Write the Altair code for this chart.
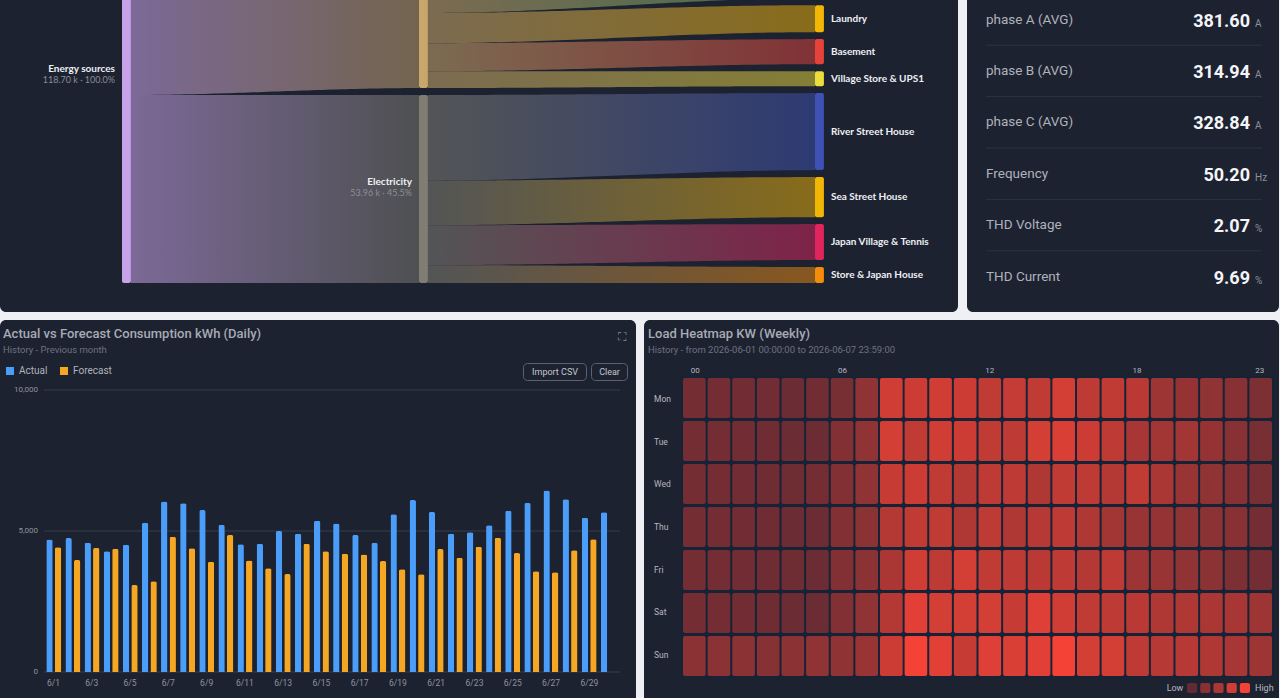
import altair as alt
import numpy as np
import pandas as pd

PAGE_BG = "#eef0f3"
PANEL_BG = "#1d2231"
TITLE_C = "#a7abb4"
SUB_C = "#6d7280"
AXIS_C = "#8d929c"

# ---------------- Sankey: energy flow (k kWh) ----------------
node_names = ["Energy sources", "Solar", "Electricity", "Main Building", "Laundry", "Basement",
              "Village Store & UPS1", "River Street House", "Sea Street House",
              "Japan Village & Tennis", "Store & Japan House"]
node_depth = [0, 3, 3, 7, 7, 7, 7, 7, 7, 7, 7]
node_values = [118.70, 64.74, 53.96, 38.6, 7.75, 7.2, 4.3, 22.1, 11.5, 10.3, 4.6]
node_colors = ["#c9a3ea", "#c9a66b", "#807e74", "#66bb6a", "#f2b705", "#e5433a", "#ecdc3c",
               "#3f51b5", "#f2b705", "#e0245e", "#f28c0a"]
node_labeled = [True, False, True, False, True, True, True, True, True, True, True]
link_sources = ["Energy sources", "Energy sources", "Solar", "Solar", "Solar", "Solar",
                "Electricity", "Electricity", "Electricity", "Electricity"]
link_targets = ["Solar", "Electricity", "Main Building", "Laundry", "Basement",
                "Village Store & UPS1", "River Street House", "Sea Street House",
                "Japan Village & Tennis", "Store & Japan House"]
link_values = [64.74, 53.96, 38.6, 7.75, 7.2, 4.3, 22.1, 11.5, 10.3, 4.6]

# ---------------- Live meter readings ----------------
stat_names = ["phase A (AVG)", "phase B (AVG)", "phase C (AVG)", "Frequency", "THD Voltage", "THD Current"]
stat_values = [381.60, 314.94, 328.84, 50.20, 2.07, 9.69]
stat_units = ["A", "A", "A", "Hz", "%", "%"]

# ---------------- Daily consumption (kWh) ----------------
days = [f"6/{d}" for d in range(1, 31)]
actual = [4700, 4750, 4585, 4280, 4515, 5295, 6050, 5980, 5745, 5225,
          4530, 4550, 5000, 4905, 5365, 5270, 4860, 4585, 5590, 6100,
          5675, 4905, 4955, 5200, 5720, 5995, 6440, 6125, 5470, 5665]
forecast = [4420, 3970, 4400, 4375, 3085, 3215, 4800, 4385, 3910, 4860,
            3950, 3675, 3475, 4550, 4280, 4195, 4170, 3935, 3640, 3465,
            4360, 4055, 4445, 4765, 4220, 3570, 3535, 4315, 4705]
bar_ticks = [0, 5000, 10000]

# ---------------- Weekly load heatmap (kW) ----------------
weekdays = ["Mon", "Tue", "Wed", "Thu", "Fri", "Sat", "Sun"]
hour_ticks = [0, 6, 12, 18, 23]
load_mon = [30, 30, 28, 28, 25, 28, 32, 45, 80, 78, 80, 78, 72, 74, 72, 82, 70, 72, 68, 52, 48, 45, 40, 35]
load_tue = [30, 30, 28, 27, 25, 25, 38, 45, 82, 72, 80, 78, 72, 70, 82, 85, 78, 70, 58, 55, 55, 48, 40, 32]
load_wed = [30, 30, 28, 27, 26, 30, 38, 45, 75, 78, 72, 65, 70, 70, 62, 72, 70, 65, 72, 60, 50, 45, 40, 32]
load_thu = [30, 30, 28, 27, 25, 25, 38, 42, 65, 72, 72, 62, 70, 62, 66, 70, 62, 55, 50, 48, 45, 42, 40, 30]
load_fri = [30, 30, 28, 27, 26, 25, 38, 42, 60, 80, 70, 82, 72, 70, 68, 70, 65, 70, 52, 50, 45, 42, 35, 30]
load_sat = [30, 30, 28, 27, 25, 25, 38, 45, 65, 90, 82, 82, 82, 75, 88, 80, 72, 70, 68, 62, 62, 60, 58, 52]
load_sun = [42, 42, 42, 40, 42, 45, 45, 50, 78, 100, 90, 75, 88, 85, 90, 100, 82, 82, 70, 66, 66, 62, 58, 52]
legend_steps = [20, 40, 60, 80, 100]

one = pd.DataFrame({"k": [0]})


def blend(c, bg, a):
    c = [int(c[i:i + 2], 16) for i in (1, 3, 5)]
    bg = [int(bg[i:i + 2], 16) for i in (1, 3, 5)]
    return "#" + "".join(f"{round(a * u + (1 - a) * v):02x}" for u, v in zip(c, bg))


def text(t, x, y, size, color, weight="normal", align="left", font="Roboto"):
    return alt.Chart(one).mark_text(text=t, fontSize=size, color=color, fontWeight=weight,
                                    align=align, baseline="middle", font=font).encode(
        x=alt.value(x), y=alt.value(y))


def panel(x0, y0, x1, y1, fill=PANEL_BG, radius=6, stroke=None):
    kw = dict(color=fill, cornerRadius=radius)
    if stroke:
        kw.update(stroke=stroke, strokeWidth=1)
    return alt.Chart(one).mark_rect(**kw).encode(
        x=alt.value(x0), x2=alt.value(x1), y=alt.value(y0), y2=alt.value(y1))


layers = [
    panel(0, -10, 958, 312),
    panel(967, -10, 1279, 312),
    panel(0, 320, 636, 706),
    panel(644, 320, 1279, 706),
]

# ---------------- Sankey layout ----------------
NODE_GAP = 2.0
NODE_W = 0.09
sx = alt.Scale(domain=[0, 7], range=[122, 815], nice=False, zero=False)
sy = alt.Scale(domain=[0, 120], range=[283, 283 - 120 * 3.484], nice=False, zero=False)

pos = {}
for d in sorted(set(node_depth)):
    col = [i for i in range(len(node_names)) if node_depth[i] == d]
    cum = 0.0
    for i in reversed(col):
        pos[node_names[i]] = (cum, cum + node_values[i])
        cum += node_values[i] + NODE_GAP

idx = {n: i for i, n in enumerate(node_names)}
out_tot, in_tot = {}, {}
for s, t, v in zip(link_sources, link_targets, link_values):
    out_tot[s] = out_tot.get(s, 0) + v
    in_tot[t] = in_tot.get(t, 0) + v
src_cur = {n: pos[n][1] for n in node_names}
tgt_cur = {n: pos[n][1] for n in node_names}

for s, t, v in zip(link_sources, link_targets, link_values):
    sh = v / out_tot[s] * (pos[s][1] - pos[s][0])
    th = v / in_tot[t] * (pos[t][1] - pos[t][0])
    a_top, a_bot = src_cur[s], src_cur[s] - sh
    b_top, b_bot = tgt_cur[t], tgt_cur[t] - th
    src_cur[s], tgt_cur[t] = a_bot, b_bot
    x0 = node_depth[idx[s]] + NODE_W
    x1 = node_depth[idx[t]]
    xs = np.linspace(x0, x1, 60)
    u = (xs - x0) / (x1 - x0)
    k = u * u * (3 - 2 * u)
    df = pd.DataFrame({"x": xs, "top": a_top + (b_top - a_top) * k, "bot": a_bot + (b_bot - a_bot) * k})
    c0 = blend(node_colors[idx[s]], PANEL_BG, 0.55)
    c1 = blend(node_colors[idx[t]], PANEL_BG, 0.5)
    grad = alt.Gradient(gradient="linear", x1=0, x2=1, y1=0, y2=0,
                        stops=[alt.GradientStop(color=c0, offset=0), alt.GradientStop(color=c1, offset=1)])
    layers.append(alt.Chart(df).mark_area(color=grad, interpolate="linear").encode(
        x=alt.X("x:Q", scale=sx, axis=None),
        y=alt.Y("top:Q", scale=sy, axis=None),
        y2="bot:Q"))

nodes_df = pd.DataFrame({
    "name": node_names,
    "d0": node_depth,
    "d1": [d + NODE_W for d in node_depth],
    "y0": [pos[n][0] for n in node_names],
    "y1": [pos[n][1] for n in node_names],
    "mid": [(pos[n][0] + pos[n][1]) / 2 for n in node_names],
    "color": node_colors,
    "value": node_values,
    "labeled": node_labeled,
})
total = node_values[0]
nodes_df["info"] = [f"{v:.2f} k · {100 * v / total:.1f}%" for v in node_values]

layers.append(alt.Chart(nodes_df).mark_rect(cornerRadius=2).encode(
    x=alt.X("d0:Q", scale=sx, axis=None), x2="d1:Q",
    y=alt.Y("y0:Q", scale=sy, axis=None), y2="y1:Q",
    color=alt.Color("color:N", scale=None)))

shown = nodes_df[nodes_df.labeled]
inner = shown[shown.d0 < 7]
outer = shown[shown.d0 == 7]
SK_FONT = "Lato"
layers.append(alt.Chart(inner).mark_text(align="right", baseline="middle", dx=-7, dy=-7, fontSize=10,
                                         fontWeight="bold", color="#eef0f4", font=SK_FONT).encode(
    x=alt.X("d0:Q", scale=sx, axis=None), y=alt.Y("mid:Q", scale=sy, axis=None), text="name:N"))
layers.append(alt.Chart(inner).mark_text(align="right", baseline="middle", dx=-7, dy=4, fontSize=9,
                                         color="#8a8e98", font=SK_FONT).encode(
    x=alt.X("d0:Q", scale=sx, axis=None), y=alt.Y("mid:Q", scale=sy, axis=None), text="info:N"))
layers.append(alt.Chart(outer).mark_text(align="left", baseline="middle", dx=7, fontSize=10,
                                         fontWeight="bold", color="#eef0f4", font=SK_FONT).encode(
    x=alt.X("d1:Q", scale=sx, axis=None), y=alt.Y("mid:Q", scale=sy, axis=None), text="name:N"))

# ---------------- Meter readings ----------------
ry = alt.Scale(domain=[0, 5], range=[19.5, 276.5], nice=False, zero=False)
stats_df = pd.DataFrame({"row": range(len(stat_names)), "name": stat_names,
                         "value": stat_values, "unit": stat_units})
sep_df = pd.DataFrame({"row": [i + 0.5 for i in range(len(stat_names) - 1)]})
layers.append(alt.Chart(sep_df).mark_rule(color="#2d3342", strokeWidth=1).encode(
    y=alt.Y("row:Q", scale=ry, axis=None), x=alt.value(986), x2=alt.value(1262)))
layers.append(alt.Chart(stats_df).mark_text(align="left", baseline="middle", fontSize=13.5,
                                            color="#aeb2ba", font="Roboto").encode(
    y=alt.Y("row:Q", scale=ry, axis=None), x=alt.value(986), text="name:N"))
layers.append(alt.Chart(stats_df).mark_text(align="right", baseline="alphabetic", dy=7, fontSize=18,
                                            fontWeight="bold", color="#f4f5f7", font="Roboto").encode(
    y=alt.Y("row:Q", scale=ry, axis=None), x=alt.value(1250),
    text=alt.Text("value:Q", format=".2f")))
layers.append(alt.Chart(stats_df).mark_text(align="left", baseline="alphabetic", dy=7, fontSize=10,
                                            color="#8c909a", font="Roboto").encode(
    y=alt.Y("row:Q", scale=ry, axis=None), x=alt.value(1255), text="unit:N"))

# ---------------- Actual vs forecast bars ----------------
bars_df = pd.DataFrame(
    [{"day": d, "series": "Actual", "kwh": v} for d, v in zip(days, actual)] +
    [{"day": d, "series": "Forecast", "kwh": v} for d, v in zip(days, forecast)])
bx = alt.Scale(domain=days, range=[44, 618], paddingInner=0.22, paddingOuter=0.12)
by = alt.Scale(domain=[0, 10000], range=[672, 390], nice=False, zero=False)

layers += [
    text("Actual vs Forecast Consumption kWh (Daily)", 3, 334, 13, TITLE_C, 500),
    text("History - Previous month", 3, 350, 9.5, SUB_C),
    text("⛶", 622, 337, 12, "#8a8f99", font="DejaVu Sans", align="center"),
    panel(523.5, 363.5, 586.5, 380.5, fill=PANEL_BG, radius=4, stroke="#5b6170"),
    panel(591.5, 363.5, 627.5, 380.5, fill=PANEL_BG, radius=4, stroke="#5b6170"),
    text("Import CSV", 555, 372, 9, "#c3c7ce", align="center"),
    text("Clear", 609.5, 372, 9, "#c3c7ce", align="center"),
]
tick_df = pd.DataFrame({"v": bar_ticks})
layers.append(alt.Chart(tick_df).mark_rule(color="#363c4a", strokeWidth=1).encode(
    y=alt.Y("v:Q", scale=by, axis=None), x=alt.value(44), x2=alt.value(620)))
layers.append(alt.Chart(tick_df).mark_text(align="right", baseline="middle", fontSize=8,
                                           color=AXIS_C, font="Roboto").encode(
    y=alt.Y("v:Q", scale=by, axis=None), x=alt.value(38), text=alt.Text("v:Q", format=",")))
layers.append(alt.Chart(bars_df).mark_bar(cornerRadiusTopLeft=2, cornerRadiusTopRight=2).encode(
    x=alt.X("day:N", scale=bx, axis=None, sort=days),
    xOffset=alt.XOffset("series:N", sort=["Actual", "Forecast"],
                        scale=alt.Scale(paddingInner=0.25, paddingOuter=0)),
    y=alt.Y("kwh:Q", scale=by, axis=None),
    color=alt.Color("series:N", scale=alt.Scale(domain=["Actual", "Forecast"], range=["#4a9df8", "#f5a623"]),
                    legend=alt.Legend(orient="none", legendX=5, legendY=366, direction="horizontal",
                                      title=None, symbolType="square", symbolSize=64,
                                      symbolStrokeWidth=0, labelColor="#aeb2ba", labelFontSize=10,
                                      labelFont="Roboto", columnPadding=11, symbolOffset=0))))
xlab_df = pd.DataFrame({"day": days[::2]})
layers.append(alt.Chart(xlab_df).mark_text(baseline="middle", fontSize=8.5, color=AXIS_C, font="Roboto").encode(
    x=alt.X("day:N", scale=bx, axis=None, sort=days), y=alt.value(683), text="day:N"))

# ---------------- Heatmap ----------------
load_rows = [load_mon, load_tue, load_wed, load_thu, load_fri, load_sat, load_sun]
heat_df = pd.DataFrame([{"day": d, "hour": h, "load": load_rows[i][h]}
                        for i, d in enumerate(weekdays) for h in range(24)])
hx = alt.Scale(domain=list(range(24)), range=[683, 1272], paddingInner=0.08, paddingOuter=0)
hy = alt.Scale(domain=weekdays, range=[378, 676], paddingInner=0.07, paddingOuter=0)
heat_scale = alt.Scale(domain=[20, 100], range=["#622b33", "#f44336"], interpolate="rgb")

layers += [
    text("Load Heatmap KW (Weekly)", 648, 334, 13, TITLE_C, 500),
    text("History - from 2026-06-01 00:00:00 to 2026-06-07 23:59:00", 648, 350, 9.5, SUB_C),
    panel(681, 376, 1274, 678, fill="#172236", radius=2),
]
layers.append(alt.Chart(heat_df).mark_rect(cornerRadius=2).encode(
    x=alt.X("hour:O", scale=hx, axis=None),
    y=alt.Y("day:O", scale=hy, axis=None),
    color=alt.Color("load:Q", scale=heat_scale, legend=None)))
hl_df = pd.DataFrame({"hour": hour_ticks, "lab": [f"{h:02d}" for h in hour_ticks]})
layers.append(alt.Chart(hl_df).mark_text(baseline="middle", fontSize=8, color="#b4b8c0", font="Roboto").encode(
    x=alt.X("hour:O", scale=hx, axis=None), y=alt.value(371), text="lab:N"))
dl_df = pd.DataFrame({"day": weekdays})
layers.append(alt.Chart(dl_df).mark_text(align="left", baseline="middle", fontSize=8.5, color="#b4b8c0",
                                         font="Roboto").encode(
    y=alt.Y("day:O", scale=hy, axis=None), x=alt.value(654), text="day:N"))
sw_df = pd.DataFrame({"step": legend_steps})
layers.append(alt.Chart(sw_df).mark_rect(cornerRadius=2).encode(
    x=alt.X("step:O", scale=alt.Scale(domain=legend_steps, range=[1187, 1250], paddingInner=0.23,
                                      paddingOuter=0), axis=None),
    y=alt.value(683), y2=alt.value(693),
    color=alt.Color("step:Q", scale=heat_scale, legend=None)))
layers += [
    text("Low", 1175, 688, 9, "#b4b8c0", align="center"),
    text("High", 1255, 688, 9, "#b4b8c0"),
]

chart = alt.layer(*layers).resolve_scale(
    x="independent", y="independent", color="independent", xOffset="independent"
).properties(
    width=1280, height=698, background=PAGE_BG, padding=0,
    autosize=alt.AutoSizeParams(type="none"),
).configure_view(stroke=None)

chart.save("out.html", embed_options={"renderer": "svg", "actions": False})
